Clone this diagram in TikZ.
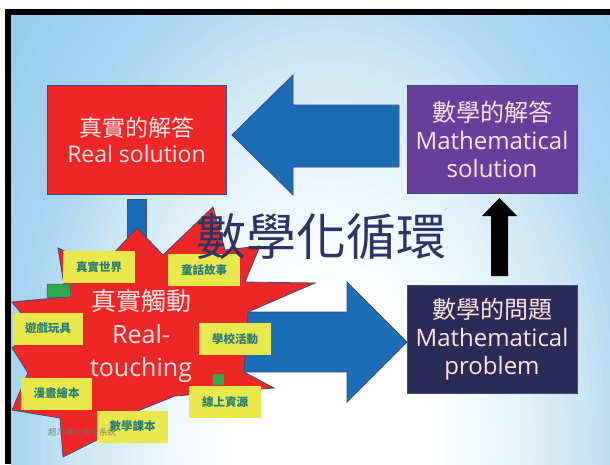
\documentclass[tikz,border=0pt]{standalone}
\usepackage{fontspec}
\setmainfont{Open Sans}
\newfontfamily\cjk{Noto Sans CJK TC}
\definecolor{bgblue}{HTML}{98CCEE}
\definecolor{bgb2}{HTML}{ACD6F1}
\definecolor{bgmid}{HTML}{CCE6F6}
\definecolor{bglight}{HTML}{E4F2FA}
\definecolor{boxred}{HTML}{EE2828}
\definecolor{boxpurple}{HTML}{6A3E9C}
\definecolor{boxnavy}{HTML}{2C2A56}
\definecolor{arrowblue}{HTML}{1B6DB6}
\definecolor{edgeblue}{HTML}{3A4C7C}
\definecolor{yel}{HTML}{E8E84C}
\definecolor{yeltext}{HTML}{2B7C78}
\definecolor{titlecol}{HTML}{2D3362}
\definecolor{lighttext}{HTML}{FBE4E4}
\definecolor{grn}{HTML}{2EAA4A}
\tikzset{
  mainbox/.style={draw=edgeblue, line width=0.8pt, inner sep=0pt, align=center, text=lighttext},
  tag/.style={fill=yel, minimum width=72pt, minimum height=32pt, inner sep=0pt, text=yeltext, font=\cjk\bfseries\fontsize{11.5}{13}\selectfont},
  bluearrow/.style={fill=arrowblue, draw=edgeblue, line width=0.8pt, line join=miter},
}
\begin{document}
\begin{tikzpicture}[x=1pt,y=-1pt]
\useasboundingbox (0,0) rectangle (610,464);
\fill[white] (0,0) rectangle (610,464);
\fill[black] (5,9) rectangle (610,464);
\begin{scope}
  \clip (11,15) rectangle (610,464);
  \fill[bgblue] (11,15) rectangle (610,464);
  \foreach \k in {64,62,...,48} {
    \pgfmathsetmacro\p{(\k-48)/16*100}
    \pgfmathsetmacro\rx{6.4*\k}\pgfmathsetmacro\ry{10*\k}
    \fill[bgblue!\p!bgb2] (330,440) ellipse [x radius=\rx pt, y radius=\ry pt];
  }
  \foreach \k in {47,46,...,40} {
    \pgfmathsetmacro\p{(\k-40)/8*100}
    \pgfmathsetmacro\rx{6.4*\k}\pgfmathsetmacro\ry{10*\k}
    \fill[bgb2!\p!bgmid] (330,440) ellipse [x radius=\rx pt, y radius=\ry pt];
  }
  \foreach \k in {39,38,...,30} {
    \pgfmathsetmacro\p{(\k-30)/10*100}
    \pgfmathsetmacro\rx{6.4*\k}\pgfmathsetmacro\ry{10*\k}
    \fill[bgmid!\p!bglight] (330,440) ellipse [x radius=\rx pt, y radius=\ry pt];
  }
  \foreach \k in {29,28,...,16} {
    \pgfmathsetmacro\p{(\k-16)/14*100}
    \pgfmathsetmacro\rx{6.4*\k}\pgfmathsetmacro\ry{10*\k}
    \fill[bglight!\p!white] (330,440) ellipse [x radius=\rx pt, y radius=\ry pt];
  }
\end{scope}

% blue vertical bar behind the burst
\fill[arrowblue, draw=edgeblue, line width=0.8pt] (127,199) rectangle (146,300);

% left arrow (math solution -> real solution)
\path[bluearrow] (232,135) -- (293,75) -- (293,105) -- (399,105) -- (399,167) -- (293,167) -- (293,195) -- cycle;
% right arrow (burst -> math problem)
\path[bluearrow] (407,342) -- (347,282) -- (347,312) -- (236,312) -- (236,372) -- (347,372) -- (347,402) -- cycle;

% black up arrow
\fill[black] (491,276) -- (491,216) -- (482,216) -- (499.5,198) -- (517,216) -- (508,216) -- (508,276) -- cycle;

% boxes
\node[mainbox, fill=boxred, minimum width=179pt, minimum height=109pt, font=\fontsize{23}{26}\selectfont] (real) at (136.5,139.5)
  {{\cjk 真實的解答}\\Real solution};
\node[mainbox, fill=boxpurple, minimum width=170pt, minimum height=108pt, font=\fontsize{24}{28}\selectfont] (msol) at (492,139)
  {{\cjk 數學的解答}\\Mathematical\\solution};
\node[mainbox, fill=boxnavy, minimum width=170pt, minimum height=108pt, font=\fontsize{24}{28}\selectfont] (mprob) at (492,339)
  {{\cjk 數學的問題}\\Mathematical\\problem};

% starburst
\filldraw[fill=boxred, draw=edgeblue, line width=0.8pt, line join=miter]
  (58,248) -- (100,268) -- (137,228) -- (163,255) -- (213,207) -- (225,250) -- (260,246) -- (245,282)
  -- (315,283) -- (248,312) -- (244,372) -- (274,388) -- (175,396) -- (140,410) -- (97,440)
  -- (63,457) -- (60,418) -- (12,410) -- (28,373) -- (12,348) -- (35,330) -- (12,302) -- (66,297) -- cycle;

% green patches
\fill[grn, draw=edgeblue, line width=0.5pt] (47,284) -- (70,284) -- (71,297) -- (47,298) -- cycle;
\fill[grn] (213,374) rectangle (224,385);

% burst text
\node[align=center, text=lighttext, inner sep=0pt, font=\fontsize{25}{33}\selectfont] (burst) at (141,336)
  {{\cjk 真實觸動}\\Real-\\touching};

% yellow tags
\node[tag] (t1) at (99,267) {真實世界};
\node[tag] (t2) at (204,270) {童話故事};
\node[tag, minimum width=70pt] (t3) at (48,328.5) {遊戲玩具};
\node[tag] (t4) at (235,339) {學校活動};
\node[tag, minimum width=71pt] (t5) at (56.5,393.5) {漫畫繪本};
\node[tag] (t6) at (225,402) {線上資源};
\node[tag, minimum width=71pt] (t7) at (132.5,426.5) {數學課本};

% watermark
\node[text=black!55, opacity=0.85, inner sep=0pt, font=\cjk\fontsize{8.5}{10}\selectfont] (wm) at (82,432) {超示轉公開學系統};

% title
\node[text=titlecol, inner sep=0pt, font=\cjk\fontsize{50}{56}\selectfont] (title) at (321,237) {數學化循環};
\end{tikzpicture}
\end{document}
